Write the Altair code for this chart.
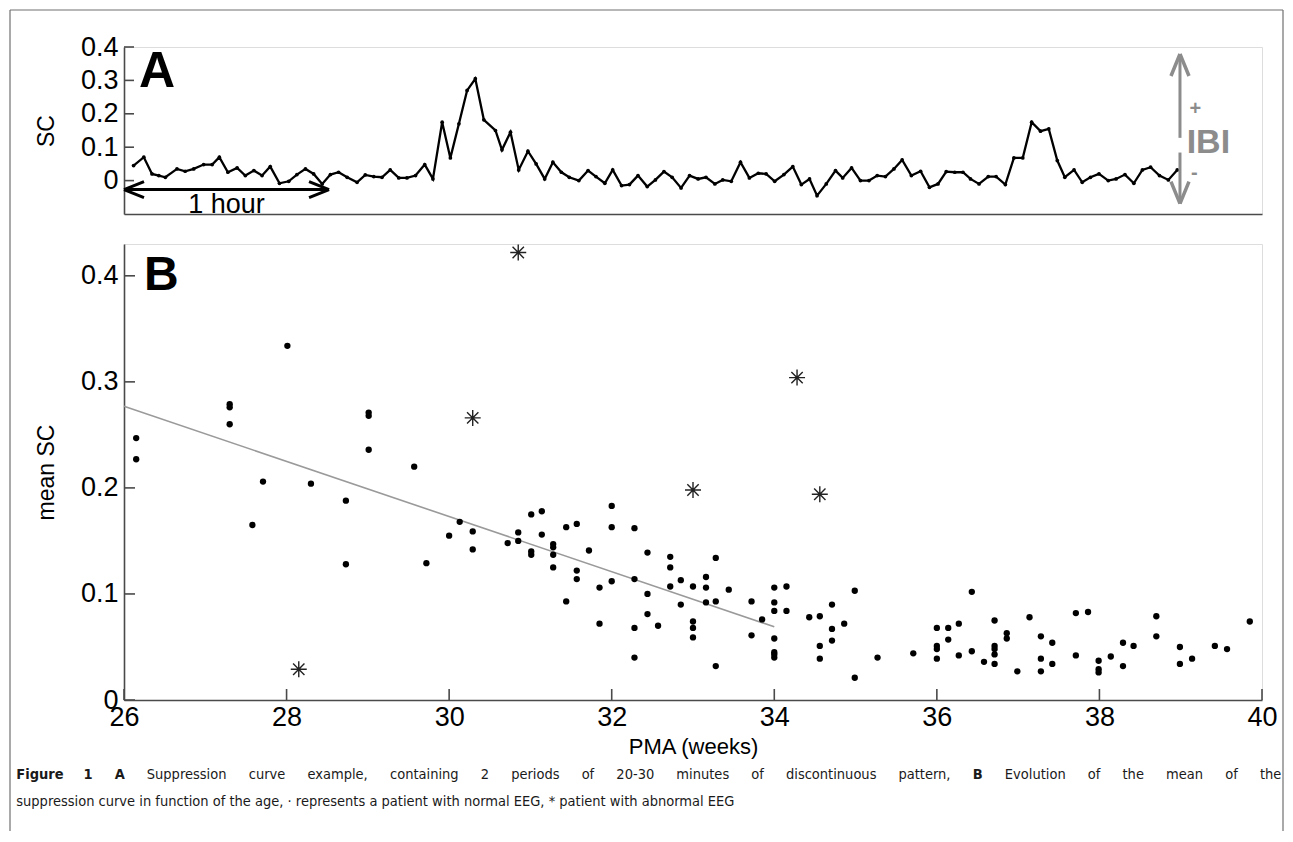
import altair as alt
import pandas as pd

FONT = "Liberation Sans, Arial, Helvetica, sans-serif"
CAPFONT = "DejaVu Sans Condensed, Liberation Sans Narrow, sans-serif"
AX = "#4a4a4a"

# ---------------- Panel A : suppression curve ----------------
sc_time = [2.8, 5.8, 8.2, 10.2, 12.1, 15.5, 17.9, 20.4, 23.3, 25.8, 27.9, 30.4, 33.1, 35.5,
           38.0, 40.4, 42.8, 45.5, 48.2, 50.6, 53.1, 55.5, 58.0, 60.4, 62.8, 65.3, 68.2, 70.6,
           73.1, 75.5, 77.9, 80.4, 82.8, 85.3, 88.0, 90.4, 93.1, 95.5, 98.0, 100.4, 102.8, 105.3,
           108.7, 110.6, 113.1, 115.5, 118.2, 120.6, 123.1, 125.5, 128.0, 130.3, 133.1, 135.8,
           138.1, 140.7, 143.0, 145.6, 147.9, 150.4, 153.1, 155.5, 158.0, 160.4, 163.0, 165.5,
           168.0, 170.3, 172.9, 175.2, 177.7, 180.4, 183.0, 185.6, 187.9, 190.4, 193.1, 195.7,
           198.2, 200.6, 202.8, 205.5, 208.2, 210.3, 212.9, 215.5, 218.0, 220.4, 222.8, 225.3,
           227.7, 230.4, 233.1, 235.7, 238.2, 240.6, 243.1, 245.5, 247.7, 250.2, 252.9, 255.2,
           257.9, 260.4, 263.0, 265.6, 268.2, 270.6, 273.1, 275.3, 278.0, 280.4, 282.8, 285.3,
           288.0, 290.3, 292.9, 295.5, 298.0, 300.4, 303.0, 305.6, 308.2]
sc_value = [0.045, 0.070, 0.020, 0.015, 0.010, 0.035, 0.028, 0.035, 0.048, 0.048, 0.070, 0.025,
            0.038, 0.015, 0.030, 0.015, 0.042, -0.008, -0.002, 0.018, 0.035, 0.020, -0.010, 0.018,
            0.025, 0.010, -0.005, 0.017, 0.012, 0.010, 0.032, 0.008, 0.008, 0.015, 0.048, 0.005,
            0.175, 0.068, 0.170, 0.270, 0.305, 0.182,
            0.150, 0.092, 0.145, 0.032, 0.088, 0.050, 0.005, 0.055, 0.025, 0.010, 0.000, 0.030,
            0.012, -0.008, 0.032, -0.015, -0.012, 0.015, -0.018, 0.002, 0.027, 0.010, -0.022, 0.015,
            0.005, 0.010, -0.010, 0.002, -0.002, 0.055, 0.008, 0.022, 0.020, -0.002, 0.018, 0.042,
            -0.012, 0.005, -0.045, -0.010, 0.030, 0.008, 0.038, 0.000, 0.000, 0.015, 0.012, 0.035,
            0.062, 0.015, 0.028, -0.020, -0.010, 0.027, 0.025, 0.025, 0.005, -0.010, 0.012, 0.012,
            -0.012, 0.068, 0.068, 0.175, 0.148, 0.155, 0.060, 0.010, 0.032, -0.005, 0.010, 0.020,
            0.000, 0.005, 0.018, -0.008, 0.032, 0.040, 0.015, 0.002, 0.032]
sc_ticks = [0, 0.1, 0.2, 0.3, 0.4]
hour_arrow = [0, 60]          # minutes
hour_arrow_level = -0.027
ibi_time = 309
ibi_upper = [0.128, 0.379]
ibi_lower = [-0.069, 0.084]

# ---------------- Panel B : mean SC vs PMA ----------------
pma_normal = [26.15, 26.15, 28.01, 27.30, 27.30, 27.30, 29.01, 29.01, 29.01, 29.57, 27.71, 27.58,
              28.30, 28.73, 28.73, 29.72, 30.00, 30.13, 30.29, 30.29, 30.72, 30.85, 30.85, 31.01,
              31.01, 31.01, 31.14, 31.14, 31.28, 31.28, 31.28, 31.28, 31.44, 31.44, 31.57, 31.57,
              31.57, 31.72, 31.85, 31.85, 32.00, 32.00, 32.00, 32.28, 32.28, 32.28, 32.28, 32.44,
              32.44, 32.44, 32.57, 32.72, 32.72, 32.72, 32.85, 32.85, 33.00, 33.00, 33.00, 33.00,
              33.16, 33.16, 33.16, 33.28, 33.28, 33.28, 33.44, 33.72, 33.72, 33.85, 34.00, 34.00,
              34.00, 34.00, 34.00, 34.00, 34.00, 34.15, 34.15, 34.43, 34.56, 34.56, 34.56, 34.71,
              34.71, 34.71, 34.86, 34.99, 34.99, 35.27, 35.71, 36.00, 36.00, 36.00, 36.00, 36.14,
              36.14, 36.27, 36.27, 36.43, 36.43, 36.58, 36.71, 36.71, 36.71, 36.71, 36.71, 36.86,
              36.86, 36.99, 37.14, 37.28, 37.28, 37.28, 37.42, 37.42, 37.71, 37.71, 37.86, 37.99,
              37.99, 37.99, 38.14, 38.29, 38.29, 38.42, 38.70, 38.70, 38.99, 38.99, 39.14, 39.42,
              39.57, 39.85]
msc_normal = [0.247, 0.227, 0.334, 0.279, 0.276, 0.260, 0.271, 0.268, 0.236, 0.220, 0.206, 0.165,
              0.204, 0.188, 0.128, 0.129, 0.155, 0.168, 0.159, 0.142, 0.148, 0.158, 0.150, 0.175,
              0.140, 0.137, 0.178, 0.156, 0.147, 0.144, 0.137, 0.125, 0.163, 0.093, 0.166, 0.122,
              0.114, 0.141, 0.106, 0.072, 0.183, 0.163, 0.112, 0.162, 0.114, 0.068, 0.040, 0.139,
              0.100, 0.081, 0.070, 0.135, 0.125, 0.107, 0.113, 0.090, 0.107, 0.074, 0.068, 0.059,
              0.116, 0.106, 0.092, 0.134, 0.093, 0.032, 0.104, 0.093, 0.061, 0.076, 0.106, 0.092,
              0.084, 0.058, 0.045, 0.043, 0.040, 0.107, 0.084, 0.078, 0.079, 0.051, 0.039, 0.090,
              0.067, 0.056, 0.072, 0.103, 0.021, 0.040, 0.044, 0.068, 0.051, 0.048, 0.039, 0.068,
              0.057, 0.072, 0.042, 0.102, 0.046, 0.036, 0.075, 0.051, 0.048, 0.043, 0.034, 0.063,
              0.058, 0.027, 0.078, 0.060, 0.039, 0.027, 0.054, 0.034, 0.082, 0.042, 0.083, 0.037,
              0.029, 0.026, 0.041, 0.054, 0.032, 0.051, 0.079, 0.060, 0.050, 0.034, 0.039, 0.051,
              0.048, 0.074]
pma_abnormal = [28.15, 30.29, 30.85, 33.00, 34.28, 34.56]
msc_abnormal = [0.029, 0.266, 0.422, 0.198, 0.304, 0.194]
fit_pma = [26, 34]
fit_msc = [0.277, 0.069]
pma_ticks = [26, 28, 30, 32, 34, 36, 38, 40]
msc_ticks = [0, 0.1, 0.2, 0.3, 0.4]

caption_words1 = [("Figure", "bold"), ("1", "bold"), ("A", "bold"), ("Suppression", "normal"),
                  ("curve", "normal"), ("example,", "normal"), ("containing", "normal"),
                  ("2", "normal"), ("periods", "normal"), ("of", "normal"), ("20-30", "normal"),
                  ("minutes", "normal"), ("of", "normal"), ("discontinuous", "normal"),
                  ("pattern,", "normal"), ("B", "bold"), ("Evolution", "normal"), ("of", "normal"),
                  ("the", "normal"), ("mean", "normal"), ("of", "normal"), ("the", "normal")]
caption_line2 = "suppression curve in function of the age, \u00b7 represents a patient with normal EEG, * patient with abnormal EEG"

WA, HA = 1138, 167
WB, HB = 1138, 456

# ---------------- build panel A ----------------
dfA = pd.DataFrame({"t": sc_time, "v": sc_value})
xA = alt.X("t:Q", scale=alt.Scale(domain=[0, 333], nice=False, zero=False),
           axis=alt.Axis(title=None, labels=False, ticks=False, grid=False,
                         domainColor=AX, domainWidth=1.6))
yA = alt.Y("v:Q", scale=alt.Scale(domain=[-0.1, 0.4], nice=False, zero=False),
           axis=alt.Axis(title="SC", values=sc_ticks, format=".1~f", grid=False, ticks=False,
                         labelFont=FONT, labelFontSize=27, labelColor="black", labelPadding=6,
                         titleFont=FONT, titleFontSize=23, titleFontWeight="normal",
                         titleColor="black", titlePadding=22, domainColor=AX, domainWidth=1.6))

lineA = alt.Chart(dfA).mark_line(color="black", strokeWidth=2.3).encode(x=xA, y=yA)
ptsA = alt.Chart(dfA).mark_point(filled=True, color="black", size=14, opacity=1).encode(x=xA, y=yA)
ticksA = alt.Chart(pd.DataFrame({"v": sc_ticks})).mark_rule(color=AX, strokeWidth=1.6).encode(
    y=yA, x=alt.value(0), x2=alt.value(10))
labelA = alt.Chart(pd.DataFrame({"s": ["A"]})).mark_text(
    font=FONT, fontSize=50, fontWeight="bold", align="left", baseline="alphabetic", color="black"
).encode(text="s:N", x=alt.value(15), y=alt.value(40))

hourdf = pd.DataFrame({"t": [hour_arrow[0]], "t2": [hour_arrow[1]], "v": [hour_arrow_level]})
hourLine = alt.Chart(hourdf).mark_rule(color="black", strokeWidth=3).encode(
    x=xA, x2="t2:Q", y=yA)
headL = alt.Chart(pd.DataFrame({"t": [hour_arrow[0]], "v": [hour_arrow_level]})).mark_point(
    shape="M0,0L1,-0.4M0,0L1,0.4", size=1600, filled=False, color="black", strokeWidth=3,
    opacity=1).encode(x=xA, y=yA)
headR = alt.Chart(pd.DataFrame({"t": [hour_arrow[1]], "v": [hour_arrow_level]})).mark_point(
    shape="M0,0L-1,-0.4M0,0L-1,0.4", size=1600, filled=False, color="black", strokeWidth=3,
    opacity=1).encode(x=xA, y=yA)
hourText = alt.Chart(pd.DataFrame({"t": [30], "v": [-0.097], "s": ["1 hour"]})).mark_text(
    font=FONT, fontSize=27, align="center", baseline="alphabetic", color="black"
).encode(x=xA, y=yA, text="s:N")

IBIC = "#8c8c8c"
ibidf = pd.DataFrame({"t": [ibi_time, ibi_time], "v": [ibi_upper[0], ibi_lower[0]],
                      "v2": [ibi_upper[1], ibi_lower[1]]})
ibiLine = alt.Chart(ibidf).mark_rule(color=IBIC, strokeWidth=3).encode(x=xA, y=yA, y2="v2:Q")
ibiUp = alt.Chart(pd.DataFrame({"t": [ibi_time], "v": [ibi_upper[1]]})).mark_point(
    shape="M0,0L-0.45,1.1M0,0L0.45,1.1", size=1600, filled=False, color=IBIC, strokeWidth=3.5,
    opacity=1).encode(x=xA, y=yA)
ibiDown = alt.Chart(pd.DataFrame({"t": [ibi_time], "v": [ibi_lower[0]]})).mark_point(
    shape="M0,0L-0.45,-1.1M0,0L0.45,-1.1", size=1600, filled=False, color=IBIC, strokeWidth=3.5,
    opacity=1).encode(x=xA, y=yA)
ibiText = alt.Chart(pd.DataFrame({"t": [317.3], "v": [0.112], "s": ["IBI"]})).mark_text(
    font=FONT, fontSize=34, fontWeight="bold", color=IBIC, align="center", baseline="middle"
).encode(x=xA, y=yA, text="s:N")
plusText = alt.Chart(pd.DataFrame({"t": [313.5, 313.2], "v": [0.215, 0.022], "s": ["+", "-"]})).mark_text(
    font=FONT, fontSize=20, fontWeight="bold", color=IBIC, align="center", baseline="middle"
).encode(x=xA, y=yA, text="s:N")

# figure frame (left, top, right)
BC = "#707070"
frameL = alt.Chart(pd.DataFrame({"a": [0]})).mark_rule(color=BC, strokeWidth=1.2).encode(
    x=alt.value(-114), y=alt.value(-37), y2=alt.value(784))
frameT = alt.Chart(pd.DataFrame({"a": [0]})).mark_rule(color=BC, strokeWidth=1.2).encode(
    x=alt.value(-114), x2=alt.value(1159), y=alt.value(-37))
frameR = alt.Chart(pd.DataFrame({"a": [0]})).mark_rule(color=BC, strokeWidth=1.2).encode(
    x=alt.value(1159), y=alt.value(-37), y2=alt.value(784))

panelA = alt.layer(frameL, frameT, frameR, lineA, ptsA, ticksA, labelA, hourLine, headL, headR,
                   hourText, ibiLine, ibiUp, ibiDown, ibiText, plusText).properties(width=WA, height=HA)

# ---------------- build panel B ----------------
xB = alt.X("p:Q", scale=alt.Scale(domain=[26, 40], nice=False, zero=False),
           axis=alt.Axis(title="PMA (weeks)", values=pma_ticks, grid=False, ticks=False,
                         labelFont=FONT, labelFontSize=27, labelColor="black", labelPadding=4,
                         labelFlush=False, labelOverlap=False,
                         titleFont=FONT, titleFontSize=22, titleFontWeight="normal",
                         titleColor="black", titlePadding=6, domainColor=AX, domainWidth=1.6))
yB = alt.Y("m:Q", scale=alt.Scale(domain=[0, 0.43], nice=False, zero=False),
           axis=alt.Axis(title="mean SC", values=msc_ticks, format=".1~f", grid=False, ticks=False,
                         labelFont=FONT, labelFontSize=27, labelColor="black", labelPadding=6,
                         labelFlush=False, labelOverlap=False,
                         titleFont=FONT, titleFontSize=23, titleFontWeight="normal",
                         titleColor="black", titlePadding=22, domainColor=AX, domainWidth=1.6))

fitB = alt.Chart(pd.DataFrame({"p": fit_pma, "m": fit_msc})).mark_line(
    color="#9a9a9a", strokeWidth=1.6).encode(x=xB, y=yB)
normB = alt.Chart(pd.DataFrame({"p": pma_normal, "m": msc_normal})).mark_circle(
    size=40, color="black", opacity=1).encode(x=xB, y=yB)
ASTER = "M0,-1L0,1M-1,0L1,0M-0.71,-0.71L0.71,0.71M-0.71,0.71L0.71,-0.71"
abnB = alt.Chart(pd.DataFrame({"p": pma_abnormal, "m": msc_abnormal})).mark_point(
    shape=ASTER, size=256, filled=False, color="#222222", strokeWidth=1.4, opacity=1
).encode(x=xB, y=yB)
ytB = alt.Chart(pd.DataFrame({"m": msc_ticks})).mark_rule(color=AX, strokeWidth=1.6).encode(
    y=yB, x=alt.value(0), x2=alt.value(11))
xtB = alt.Chart(pd.DataFrame({"p": pma_ticks})).mark_rule(color=AX, strokeWidth=1.6).encode(
    x=xB, y=alt.value(HB), y2=alt.value(HB - 11))
labelB = alt.Chart(pd.DataFrame({"s": ["B"]})).mark_text(
    font=FONT, fontSize=48, fontWeight="bold", align="left", baseline="alphabetic", color="black"
).encode(text="s:N", x=alt.value(20), y=alt.value(46))

# ---- caption: first line justified word by word, second line ragged ----
CAP_SIZE = 14.5
EM = {" ": .318, ",": .318, ".": .318, "-": .361, "*": .5, "\u00b7": .318,
      "0": .636, "1": .636, "2": .636, "3": .636,
      "a": .613, "b": .635, "c": .550, "d": .635, "e": .615, "f": .352, "g": .635, "h": .634,
      "i": .278, "j": .278, "k": .579, "l": .278, "m": .974, "n": .634, "o": .612, "p": .635,
      "q": .635, "r": .411, "s": .521, "t": .392, "u": .634, "v": .592, "w": .818, "x": .592,
      "y": .592, "z": .525, "A": .684, "B": .686, "E": .632, "F": .575, "G": .775, "S": .635}


def word_width(word, bold):
    return sum(EM.get(c, .6) for c in word) * 0.898 * CAP_SIZE * (1.1 if bold else 1.0)


cap_left, cap_right = 15, 1280
widths = [word_width(w, wt == "bold") for w, wt in caption_words1]
gap = (cap_right - cap_left - sum(widths)) / (len(widths) - 1)
cap_layers = []
pos = cap_left
for (w, wt), wd in zip(caption_words1, widths):
    cap_layers.append(
        alt.Chart(pd.DataFrame({"s": [w]})).mark_text(
            font=CAPFONT, fontSize=CAP_SIZE, fontWeight=wt, align="left", baseline="alphabetic",
            color="#1a1a1a").encode(text="s:N", x=alt.value(pos - 122.75), y=alt.value(535)))
    pos += wd + gap
cap_layers.append(
    alt.Chart(pd.DataFrame({"s": [caption_line2]})).mark_text(
        font=CAPFONT, fontSize=CAP_SIZE, align="left", baseline="alphabetic", color="#1a1a1a"
    ).encode(text="s:N", x=alt.value(cap_left - 122.75), y=alt.value(562)))

panelB = alt.layer(fitB, normB, abnB, ytB, xtB, labelB, *cap_layers).properties(width=WB, height=HB)

chart = alt.vconcat(panelA, panelB, spacing=30, bounds="flush").properties(
    padding={"left": 0, "top": 0, "right": 0, "bottom": 0}
).configure_view(stroke=None).configure(background="white")

chart.save("out.html", embed_options={"renderer": "svg", "actions": False})
